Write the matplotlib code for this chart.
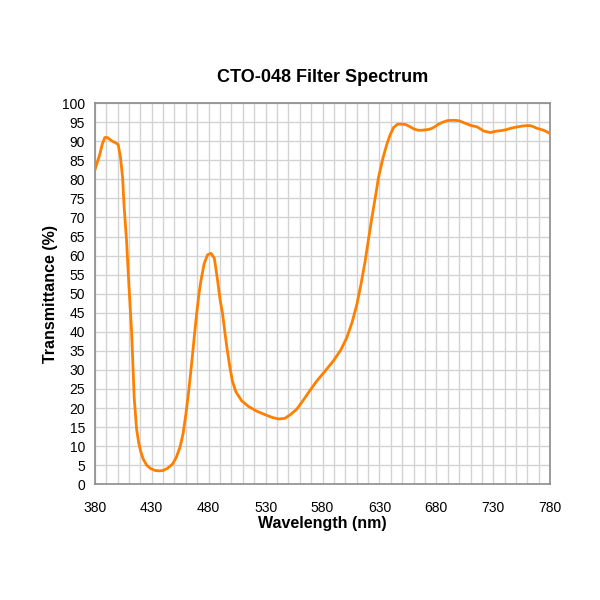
import matplotlib
matplotlib.use('Agg')
import matplotlib.pyplot as plt
from matplotlib.ticker import MultipleLocator

plt.rcParams['font.family'] = ['Liberation Sans', 'DejaVu Sans']

# wavelength (nm) and transmittance (%)
wavelength = [380, 382, 384.4, 386.5, 388.8, 391, 393.2, 395.5, 397.6, 400.5,
              402.6, 404.4, 405.8, 407.9, 410, 412.3, 414.6, 416.7, 418.5, 420.2,
              422.5, 425.5, 429, 433, 436.6, 440, 444, 448.3, 451.5, 454.7,
              457.5, 460, 462.5, 465, 467.3, 469.4, 471.5, 473.2, 476, 479,
              482, 485, 487.9, 490, 492.3, 494.2, 496, 498.5, 500.8, 504,
              509, 515, 522, 530, 536, 541.8, 547, 552, 557.4, 563,
              569, 575, 582, 589.6, 596, 601.4, 606, 610.2, 614, 617.5,
              620.5, 623.4, 626.5, 629.2, 633, 636.5, 639.5, 642.4, 646, 649.7,
              653, 657, 660.5, 664.3, 667, 670.2, 673, 676.1, 679, 681.9,
              685.5, 689.3, 693, 696.6, 700, 703.9, 706.5, 709.8, 712.5, 715.7,
              718.5, 721.5, 724.5, 727.4, 730, 733.3, 737, 740.6, 744, 747.9,
              751.5, 755.3, 759, 762.6, 765.5, 768.4, 771, 774.2, 777, 780]
transmittance = [82.4, 84.3, 86.6, 89.2, 91.0, 91.0, 90.5, 90.0, 89.7, 89.2,
                 85.7, 80.5, 72.6, 63.9, 52.0, 40.2, 22.7, 14.5, 11.0, 8.7,
                 6.6, 5.0, 4.1, 3.6, 3.5, 3.6, 4.2, 5.3, 7.0, 9.6,
                 13.2, 18.4, 24.5, 31.5, 38.5, 44.6, 50.0, 53.4, 57.8, 60.2,
                 60.6, 59.3, 53.4, 48.5, 44.6, 40.0, 35.9, 31.0, 27.1, 24.2,
                 21.9, 20.4, 19.2, 18.2, 17.5, 17.1, 17.3, 18.3, 19.7, 22.0,
                 24.6, 27.1, 29.6, 32.4, 35.2, 38.5, 42.5, 47.2, 52.8, 58.6,
                 64.5, 70.0, 75.5, 80.5, 85.5, 89.2, 91.8, 93.6, 94.5, 94.5,
                 94.4, 93.8, 93.2, 92.9, 92.9, 93.0, 93.1, 93.4, 93.9, 94.5,
                 95.0, 95.4, 95.5, 95.5, 95.4, 94.9, 94.6, 94.2, 94.0, 93.8,
                 93.3, 92.7, 92.5, 92.3, 92.5, 92.7, 92.8, 93.0, 93.3, 93.6,
                 93.8, 94.0, 94.1, 94.1, 93.8, 93.4, 93.2, 92.9, 92.5, 92.0]

x_ticks = [380, 430, 480, 530, 580, 630, 680, 730, 780]

fig = plt.figure(figsize=(6, 6), dpi=100)
ax = fig.add_axes([0.158, 0.193, 0.759, 0.635])

ax.plot(wavelength, transmittance, color='#ff8000', linewidth=2, zorder=3)

ax.set_xlim(380, 780)
ax.set_ylim(0, 100)
ax.set_xticks(x_ticks)
ax.xaxis.set_minor_locator(MultipleLocator(10))
ax.yaxis.set_major_locator(MultipleLocator(5))
ax.grid(True, which='both', color='#d3d3d3', linewidth=1)
ax.set_axisbelow(True)
ax.tick_params(which='both', length=0, labelsize=10)
ax.tick_params(axis='x', pad=12)
ax.tick_params(axis='y', pad=7)

for s in ax.spines.values():
    s.set_color('#8c8c8c')
    s.set_linewidth(1.2)

ax.set_title('CTO-048 Filter Spectrum', fontsize=13, fontweight='bold', pad=15)
ax.set_xlabel('Wavelength (nm)', fontsize=11.5, fontweight='bold', labelpad=1)
ax.set_ylabel('Transmittance (%)', fontsize=11.5, fontweight='bold', labelpad=3)

fig.savefig('out.png', dpi=100, facecolor='white')
